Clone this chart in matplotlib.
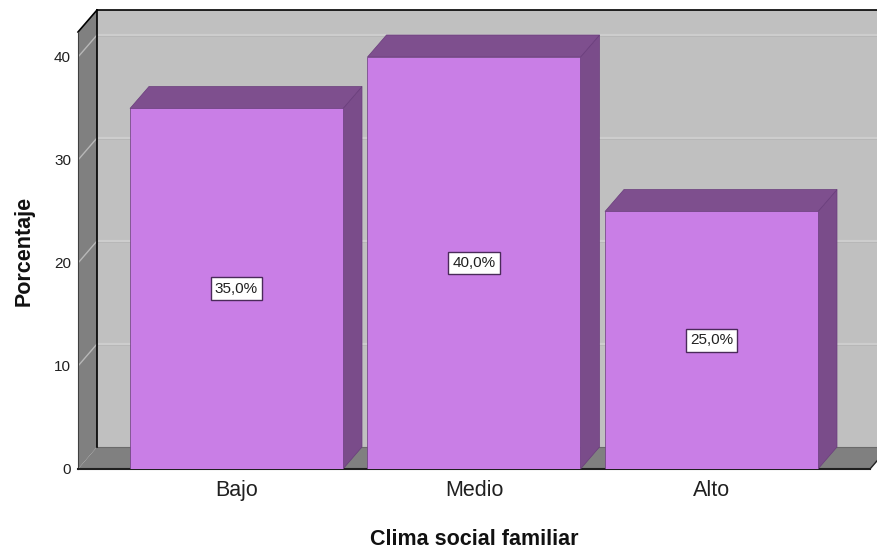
import matplotlib
matplotlib.use("Agg")
import matplotlib.pyplot as plt
from matplotlib.patches import Polygon, Rectangle

categories = ["Bajo", "Medio", "Alto"]
percentages = [35.0, 40.0, 25.0]
value_labels = ["35,0%", "40,0%", "25,0%"]
yticks = [0, 10, 20, 30, 40]

plt.rcParams['font.family'] = ['Liberation Sans', 'DejaVu Sans']

W, H = 878, 550
fig = plt.figure(figsize=(W / 100, H / 100), dpi=100)
ax = fig.add_axes([78 / W, (H - 469) / H, (W - 78) / W, (469 - 10) / H])

PX_PER_UNIT_Y = 10.3
PX_PER_CAT = 237.5
x0 = -(236.5 - 78) / PX_PER_CAT
x1 = (W - 236.5) / PX_PER_CAT
ytop = (469 - 10) / PX_PER_UNIT_Y
ax.set_xlim(x0, x1)
ax.set_ylim(0, ytop)

DX = 19 / PX_PER_CAT
DY = 22 / PX_PER_UNIT_Y
BW = 213 / PX_PER_CAT
wall_top_front = ytop - DY
floor_right = (870 - 236.5) / PX_PER_CAT

# back wall
ax.add_patch(Rectangle((x0 + DX, DY), x1 + 1 - (x0 + DX), ytop, facecolor='#c0c0c0',
                       edgecolor='none', zorder=0))
# gridlines on back wall
for t in yticks[1:]:
    ax.plot([x0 + DX, x1 + 1], [t + DY, t + DY], color='#cdcdcd', lw=1.6, zorder=1)
    ax.plot([x0 + DX, x1 + 1], [t + DY - 0.14, t + DY - 0.14], color='#b6b6b6', lw=0.6, zorder=1)
# left wall
ax.add_patch(Polygon([(x0, 0), (x0, wall_top_front), (x0 + DX, ytop), (x0 + DX, DY)],
                     closed=True, facecolor='#808080', edgecolor='none', zorder=2, clip_on=False))
for t in yticks[1:]:
    ax.plot([x0, x0 + DX], [t, t + DY], color='#b8b8b8', lw=1.0, zorder=2.5)
# floor
ax.add_patch(Polygon([(x0, 0), (x0 + DX, DY), (floor_right + DX, DY), (floor_right, 0)],
                     closed=True, facecolor='#808080', edgecolor='none', zorder=2))
# borders
ax.plot([x0 + DX, x0 + DX], [DY, ytop], color='black', lw=1.2, zorder=3, clip_on=False)
ax.plot([x0 + DX, x1 + 1], [ytop, ytop], color='black', lw=1.2, zorder=3, clip_on=False)
ax.plot([x0, x0 + DX], [wall_top_front, ytop], color='black', lw=1.2, zorder=3, clip_on=False)
ax.plot([x0, x0], [0, wall_top_front], color='#404040', lw=0.8, zorder=3, clip_on=False)
ax.plot([x0, floor_right], [0, 0], color='#202020', lw=1.5, zorder=3, clip_on=False)
ax.plot([floor_right, floor_right + DX], [0, DY], color='#202020', lw=1.0, zorder=3)
ax.plot([x0 + DX, floor_right + DX], [DY, DY], color='#6a6a6a', lw=0.8, zorder=2.6)

front_c = '#c97ee6'
top_c = '#7e4f8e'
side_c = '#7a4c8a'
edge_c = '#6a3d7c'

for i, (cat, v, lab) in enumerate(zip(categories, percentages, value_labels)):
    l = i - BW / 2
    r = i + BW / 2
    ax.add_patch(Polygon([(r, 0), (r + DX, DY), (r + DX, v + DY), (r, v)], closed=True,
                         facecolor=side_c, edgecolor=edge_c, lw=0.5, zorder=4))
    ax.add_patch(Polygon([(l, v), (l + DX, v + DY), (r + DX, v + DY), (r, v)], closed=True,
                         facecolor=top_c, edgecolor=edge_c, lw=0.5, zorder=4))
    ax.bar(i, v, width=BW, color=front_c, edgecolor=edge_c, lw=0.5, zorder=5)
    ax.text(i, v / 2, lab, ha='center', va='center', fontsize=11, color='#202020', zorder=6,
            bbox=dict(boxstyle='square,pad=0.28', facecolor='white', edgecolor='#4a2a5a', lw=1.0))

ax.set_xticks(range(len(categories)))
ax.set_xticklabels(categories, fontsize=15.5, color='#202020')
ax.set_yticks(yticks)
ax.set_yticklabels([str(t) for t in yticks], fontsize=11, color='#202020')
ax.tick_params(axis='x', length=0, pad=8)
ax.tick_params(axis='y', length=0, pad=5)
for s in ax.spines.values():
    s.set_visible(False)
ax.set_facecolor('none')

fig.text(24 / W, 1 - 251 / H, "Porcentaje", rotation=90, ha='center', va='center',
         fontsize=15.5, fontweight='bold', color='#111111')
fig.text(474 / W, (H - 545) / H, "Clima social familiar", ha='center', va='baseline',
         fontsize=15.5, fontweight='bold', color='#111111')

fig.savefig("out.png", dpi=100)
